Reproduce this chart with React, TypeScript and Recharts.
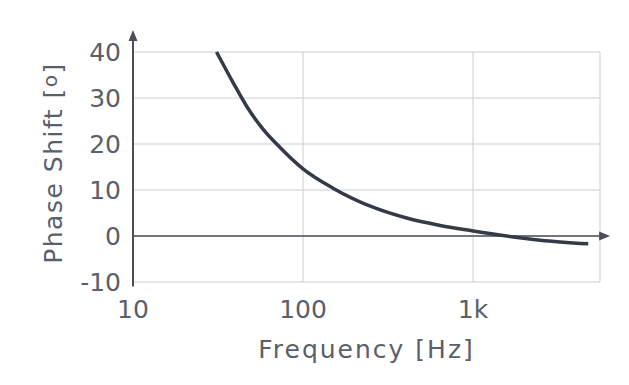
import {
  LineChart,
  Line,
  XAxis,
  YAxis,
  CartesianGrid,
  ReferenceLine,
  ReferenceDot,
  Label,
} from 'recharts'

const frequencies = [31, 39, 47, 58, 73, 100, 150, 260, 407, 640, 1000, 1580, 2480, 4760]
const phaseShift = [40, 33.2, 28, 23.3, 19.3, 14.6, 10.4, 6.2, 3.9, 2.3, 1.1, 0, -0.9, -1.7]
const xTicks = [10, 100, 1000]
const yTicks = [-10, 0, 10, 20, 30, 40]

const data = frequencies.map((f, i) => ({ f, phase: phaseShift[i] }))

const textColor = '#5a5f6b'
const axisColor = '#4a4f5a'
const gridColor = '#c9cdd6'
const font = '"DejaVu Sans", sans-serif'

const fmtFreq = (v: number) => (v >= 1000 ? `${v / 1000}k` : `${v}`)

const UpArrow = (p: any) => (
  <path d={`M${p.cx},${p.cy} L${p.cx - 4.5},${p.cy + 11} L${p.cx + 4.5},${p.cy + 11} Z`} fill={axisColor} />
)
const RightArrow = (p: any) => (
  <path d={`M${p.cx},${p.cy} L${p.cx - 11},${p.cy - 4.5} L${p.cx - 11},${p.cy + 4.5} Z`} fill={axisColor} />
)

const YTitle = (props: any) => {
  const vb = props.viewBox
  const cx = vb.x + 53
  const cy = vb.y + vb.height / 2 - 4
  return (
    <text
      x={cx}
      y={cy}
      transform={`rotate(-90, ${cx}, ${cy})`}
      textAnchor="middle"
      dominantBaseline="central"
      fill={textColor}
      fontSize={25}
      fontFamily={font}
      letterSpacing={1.5}
    >
      Phase Shift [<tspan fontSize={20} dy={-3}>o</tspan><tspan dy={3}>]</tspan>
    </text>
  )
}

export default function App() {
  return (
    <div style={{ position: 'absolute', left: 0, top: 0, background: '#fff' }}>
      <LineChart
        width={629}
        height={385}
        data={data}
        margin={{ top: 52, right: 29, bottom: 23, left: 0 }}
      >
        <CartesianGrid stroke={gridColor} strokeWidth={1} />
        <XAxis
          dataKey="f"
          type="number"
          scale="log"
          domain={[10, 5580]}
          ticks={xTicks}
          tickFormatter={fmtFreq}
          axisLine={false}
          tickLine={false}
          tickSize={0}
          tickMargin={18}
          height={80}
          allowDataOverflow
          tick={{ fontSize: 25, fill: textColor, fontFamily: font }}
        >
          <Label
            value="Frequency [Hz]"
            position="insideBottom"
            offset={4}
            fill={textColor}
            fontSize={25}
            fontFamily={font}
            letterSpacing={2}
          />
        </XAxis>
        <YAxis
          type="number"
          domain={[-10, 40]}
          ticks={yTicks}
          width={133}
          axisLine={false}
          tickLine={false}
          tickSize={0}
          tickMargin={12}
          tick={{ fontSize: 25, fill: textColor, fontFamily: font }}
        >
          <Label content={YTitle} />
        </YAxis>
        <ReferenceLine
          segment={[{ x: 10, y: -11 }, { x: 10, y: 43 }]}
          stroke={axisColor}
          strokeWidth={2}
          ifOverflow="visible"
        />
        <ReferenceDot x={10} y={44.8} ifOverflow="visible" shape={UpArrow} />
        <ReferenceLine
          segment={[{ x: 10, y: 0 }, { x: 6000, y: 0 }]}
          stroke={axisColor}
          strokeWidth={1.5}
          ifOverflow="visible"
        />
        <ReferenceDot x={6400} y={0} ifOverflow="visible" shape={RightArrow} />
        <Line
          type="monotone"
          dataKey="phase"
          stroke="#343a46"
          strokeWidth={3.5}
          dot={false}
          isAnimationActive={false}
        />
      </LineChart>
    </div>
  )
}
